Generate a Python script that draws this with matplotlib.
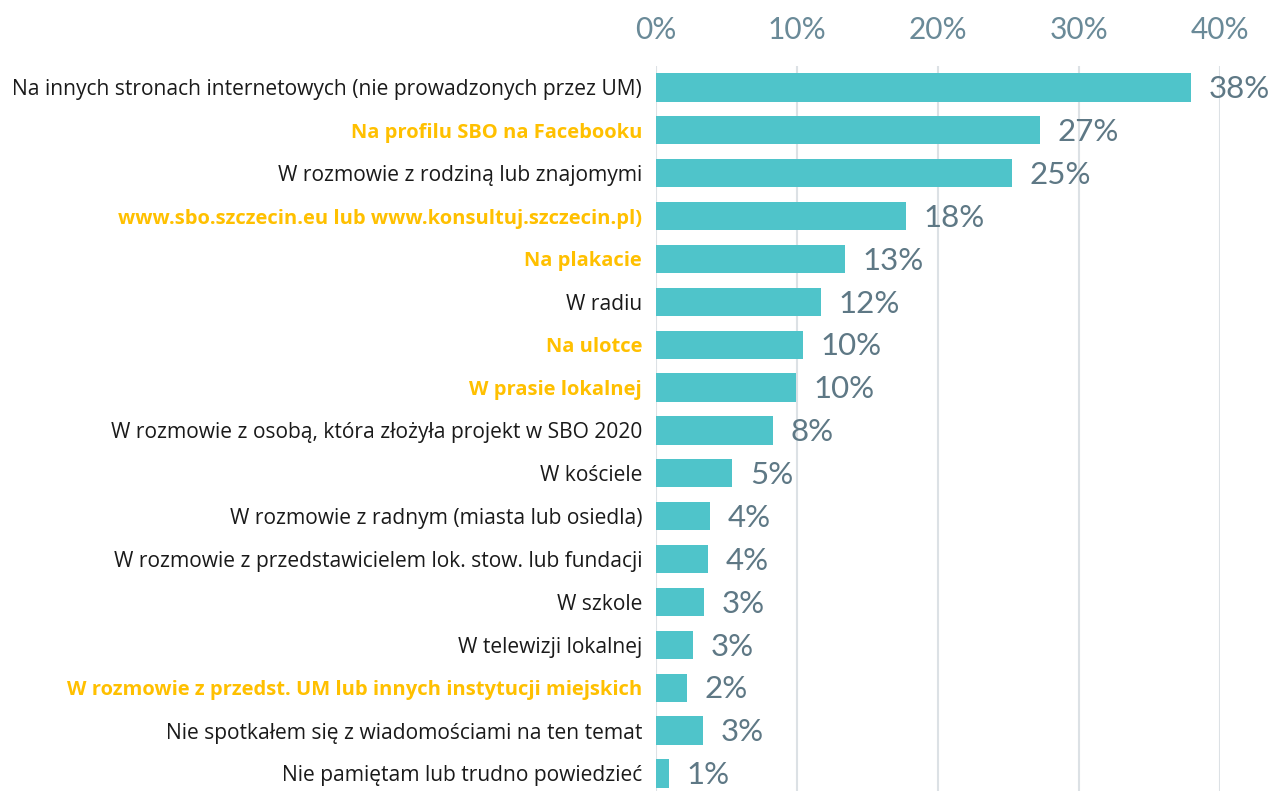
import matplotlib
matplotlib.use("Agg")
import matplotlib.pyplot as plt

categories = [
    "Na innych stronach internetowych (nie prowadzonych przez UM)",
    "Na profilu SBO na Facebooku",
    "W rozmowie z rodziną lub znajomymi",
    "www.sbo.szczecin.eu lub www.konsultuj.szczecin.pl)",
    "Na plakacie",
    "W radiu",
    "Na ulotce",
    "W prasie lokalnej",
    "W rozmowie z osobą, która złożyła projekt w SBO 2020",
    "W kościele",
    "W rozmowie z radnym (miasta lub osiedla)",
    "W rozmowie z przedstawicielem lok. stow. lub fundacji",
    "W szkole",
    "W telewizji lokalnej",
    "W rozmowie z przedst. UM lub innych instytucji miejskich",
    "Nie spotkałem się z wiadomościami na ten temat",
    "Nie pamiętam lub trudno powiedzieć",
]
values = [37.9, 27.2, 25.2, 17.7, 13.4, 11.7, 10.4, 9.9, 8.3, 5.4, 3.8, 3.7, 3.4, 2.6, 2.2, 3.3, 0.9]
highlighted = [False, True, False, True, True, False, True, True, False, False, False, False, False, False, True, False, False]
xticks = [0, 10, 20, 30, 40]

BAR = "#4FC4CA"
ORANGE = "#FFC000"
VAL = "#5E7885"
TICK = "#6A8A98"
GRID = "#DCE1E5"

fig = plt.figure(figsize=(12.73, 7.91), dpi=100)
ax = fig.add_axes([656/1273, 0, (1220.5-656)/1273, 1-66/791])

y = list(range(len(categories)))
ax.barh(y, values, height=0.66, color=BAR, zorder=3)
ax.set_ylim(16.41, -0.5)
ax.set_xlim(0, 40)

for v, yi in zip(values, y):
    ax.text(v + 1.25, yi + 0.04, f"{v:.0f}%", va="center", ha="left", fontsize=22.5,
            family="Lato", color=VAL, zorder=4, clip_on=False)

ax.set_yticks(y)
ax.set_yticklabels(categories)
for lbl, h in zip(ax.get_yticklabels(), highlighted):
    lbl.set_family("Open Sans")
    if h:
        lbl.set_fontsize(14.5)
        lbl.set_color(ORANGE)
        lbl.set_fontweight("bold")
    else:
        lbl.set_fontsize(15.1)
        lbl.set_color("#1a1a1a")
ax.tick_params(axis="y", length=0, pad=10)

ax.xaxis.tick_top()
ax.set_xticks(xticks)
ax.set_xticklabels([f"{t}%" for t in xticks], family="Lato", fontsize=21.5, color=TICK)
ax.tick_params(axis="x", length=0, pad=16)
ax.grid(axis="x", color=GRID, linewidth=1.5, zorder=0)
for s in ax.spines.values():
    s.set_visible(False)

fig.savefig("out.png", dpi=100)
